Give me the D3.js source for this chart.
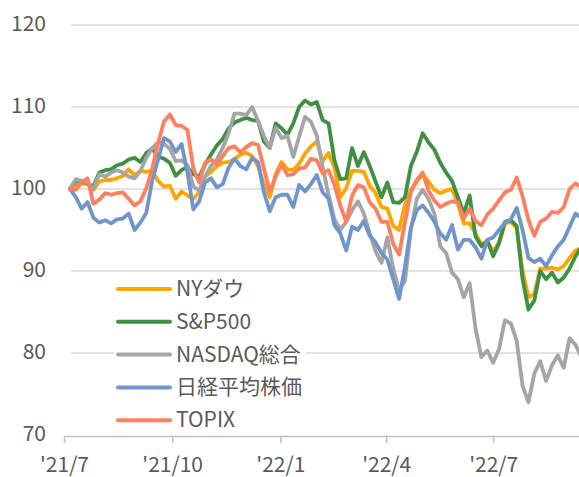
<!DOCTYPE html>
<html>
<head>
<meta charset="utf-8">
<script src="https://cdn.jsdelivr.net/npm/d3@7"></script>
<style>
  html, body { margin: 0; padding: 0; background: #fff; }
  #chart { width: 579px; height: 477px; }
  text { font-family: "Noto Sans CJK JP", "Noto Sans", sans-serif; fill: #595959; }
</style>
</head>
<body>
<div id="chart"></div>
<script>
// index values (start = 100), one value every 5 days from 2021/7/6
const startDate = new Date(2021, 6, 6);
const stepDays = 5;

const seriesNames = ['NYダウ', 'S&P500', 'NASDAQ総合', '日経平均株価', 'TOPIX'];
const seriesColors = ['#FFA500', '#3F9142', '#A5A5A5', '#7095CD', '#FF7F5E'];

const dow = [100, 100.5, 100.7, 100.6, 99.9, 100.9, 101.1, 101.1, 101.3, 101.6, 102.4, 101.7, 102.2, 102.1, 102.2, 101.0, 100.3, 100.4, 98.8, 99.7, 99.2, 98.8, 99.6, 101.5, 102.1, 102.8, 103.2, 103.3, 103.6, 104.2, 104.4, 104.0, 102.8, 100.6, 99.0, 101.8, 103.3, 102.4, 102.3, 103.1, 104.3, 105.2, 105.8, 103.4, 104.4, 102.6, 99.0, 100.1, 102.2, 102.2, 102.1, 100.4, 99.5, 97.8, 97.6, 95.5, 95.0, 98.1, 99.9, 100.9, 101.8, 100.9, 99.9, 99.5, 99.8, 100.0, 98.2, 95.8, 95.8, 94.6, 93.2, 93.6, 92.4, 93.5, 95.8, 96.0, 95.2, 90.0, 86.8, 87.2, 90.3, 90.3, 90.4, 90.2, 90.6, 91.6, 92.5, 92.8];
const sp500 = [100, 101.0, 101.0, 100.7, 100.3, 102.0, 102.3, 102.4, 102.9, 103.1, 103.6, 103.8, 103.3, 104.4, 104.9, 104.0, 103.7, 103.2, 101.6, 102.3, 102.7, 101.8, 101.5, 103.0, 104.2, 105.3, 106.1, 107.4, 108.1, 108.4, 108.7, 108.4, 108.3, 105.8, 105.0, 108.0, 107.4, 106.6, 108.0, 110.0, 110.8, 110.3, 110.6, 108.4, 108.0, 103.5, 101.2, 101.3, 105.0, 102.8, 104.5, 102.8, 100.9, 99.0, 100.8, 98.4, 98.3, 99.0, 102.8, 104.5, 106.8, 105.7, 104.8, 103.2, 102.0, 101.0, 99.0, 97.0, 99.2, 94.2, 93.0, 93.7, 91.8, 93.4, 96.0, 96.2, 95.5, 89.0, 85.3, 86.4, 90.0, 89.0, 89.8, 88.6, 89.2, 90.3, 91.8, 92.9];
const nasdaq = [100, 101.2, 101.0, 100.8, 100.0, 101.8, 101.5, 102.0, 102.3, 102.0, 101.5, 101.3, 102.2, 103.8, 105.0, 105.7, 105.5, 104.9, 103.4, 103.5, 102.9, 100.3, 99.8, 101.5, 102.8, 103.6, 105.0, 106.8, 109.2, 109.2, 109.0, 110.0, 108.3, 106.5, 105.0, 107.5, 106.2, 106.5, 103.9, 106.4, 108.8, 108.2, 106.5, 102.7, 99.3, 96.3, 95.0, 96.0, 97.4, 98.5, 97.0, 94.6, 92.4, 91.0, 94.1, 90.3, 87.6, 88.8, 95.0, 98.8, 99.9, 98.8, 97.0, 93.0, 92.2, 89.8, 89.0, 86.8, 88.5, 83.0, 79.5, 80.3, 78.8, 80.5, 84.0, 83.6, 81.5, 76.0, 74.0, 77.5, 79.0, 76.6, 78.5, 79.7, 78.2, 81.8, 81.0, 79.5];
const nikkei = [100, 99.0, 97.6, 98.4, 96.5, 95.9, 96.2, 95.8, 96.3, 96.4, 97.0, 95.0, 95.9, 97.1, 101.0, 103.6, 106.2, 105.8, 104.5, 105.5, 102.0, 97.5, 98.5, 100.8, 101.3, 100.2, 100.6, 102.6, 103.7, 102.8, 102.4, 103.8, 103.3, 99.6, 97.3, 99.0, 99.3, 99.3, 97.8, 100.5, 99.7, 100.6, 101.7, 99.6, 98.8, 95.6, 94.6, 92.5, 95.4, 95.0, 96.1, 94.3, 93.5, 92.2, 91.4, 89.0, 86.6, 90.5, 95.3, 97.4, 98.0, 97.1, 96.0, 94.6, 93.8, 95.6, 92.6, 93.8, 93.8, 92.9, 91.5, 93.8, 94.1, 95.0, 95.9, 96.3, 97.7, 95.0, 91.6, 91.1, 91.5, 90.6, 91.9, 93.0, 93.8, 95.4, 97.0, 96.5];
const topix = [100, 99.9, 100.8, 101.3, 98.2, 98.7, 99.5, 99.3, 99.5, 99.6, 98.8, 98.0, 98.5, 100.1, 102.5, 105.6, 108.2, 109.1, 107.8, 107.7, 107.2, 102.5, 100.8, 103.2, 103.6, 103.0, 104.0, 105.0, 105.2, 104.5, 105.1, 105.6, 105.4, 102.5, 99.7, 101.5, 103.0, 101.7, 101.8, 102.5, 102.6, 103.7, 103.5, 101.9, 102.3, 100.5, 98.0, 96.0, 99.2, 100.5, 100.2, 98.4, 97.6, 96.0, 96.0, 93.3, 92.0, 96.0, 99.6, 101.1, 102.0, 99.8, 98.6, 97.8, 98.2, 98.5, 98.4, 96.4, 97.6, 96.1, 95.6, 96.9, 97.6, 98.6, 99.6, 99.9, 101.4, 99.1, 96.2, 94.3, 96.0, 96.4, 97.2, 97.1, 97.8, 100.0, 100.7, 100.2];

const yTicks = [70, 80, 90, 100, 110, 120];
const xTickDates = [new Date(2021, 6, 1), new Date(2021, 9, 1), new Date(2022, 0, 1), new Date(2022, 3, 1), new Date(2022, 6, 1)];
const xTickLabels = ["'21/7", "'21/10", "'22/1", "'22/4", "'22/7"];

const width = 579;
const height = 477;

const svg = d3.select('#chart')
    .append('svg')
    .attr('width', width)
    .attr('height', height)
    .attr('viewBox', `0 0 ${width} ${height}`);

const x = d3.scaleTime()
    .domain([new Date(2021, 6, 1), new Date(2022, 8, 12)])
    .range([64, 579]);

const y = d3.scaleLinear()
    .domain([70, 120])
    .range([435, 25]);

const dates = dow.map((d, i) => d3.timeDay.offset(startDate, i * stepDays));

// gridlines
svg.append('g')
    .attr('class', 'grid')
    .selectAll('line')
    .data(yTicks.filter(t => t > 70))
    .join('line')
    .attr('x1', 71)
    .attr('x2', width)
    .attr('y1', d => y(d))
    .attr('y2', d => y(d))
    .attr('stroke', '#D9D9D9')
    .attr('stroke-width', 1.5);

// y labels
svg.append('g')
    .selectAll('text')
    .data(yTicks)
    .join('text')
    .attr('x', 46)
    .attr('y', d => y(d) + 6)
    .attr('text-anchor', 'end')
    .style('font-size', '21px')
    .text(d => d);

// x axis
const xAxis = svg.append('g')
    .attr('transform', `translate(0, ${y(70) + 1})`)
    .call(d3.axisBottom(x)
        .tickValues(xTickDates)
        .tickSize(7)
        .tickSizeOuter(0)
        .tickFormat((d, i) => xTickLabels[i]));

xAxis.select('.domain').attr('stroke', '#BFBFBF').attr('stroke-width', 1.5);
xAxis.selectAll('.tick line').attr('stroke', '#BFBFBF').attr('stroke-width', 1.5);
xAxis.selectAll('.tick text')
    .attr('y', 0)
    .attr('dy', 0)
    .attr('transform', 'translate(0, 36)')
    .style('font-size', '21px')
    .style('font-family', '"Noto Sans CJK JP", "Noto Sans", sans-serif')
    .attr('fill', '#595959');

// legend box (white, hides gridline)
const legend = svg.append('g').attr('class', 'legend');

legend.append('rect')
    .attr('x', 114)
    .attr('y', 273)
    .attr('width', 192)
    .attr('height', 160)
    .attr('fill', '#fff');

// lines
const allSeries = [dow, sp500, nasdaq, nikkei, topix];

const line = d3.line()
    .x((d, i) => x(dates[i]))
    .y(d => y(d));

svg.append('defs')
    .append('clipPath')
    .attr('id', 'plot-clip')
    .append('rect')
    .attr('x', 60)
    .attr('y', 0)
    .attr('width', width - 60)
    .attr('height', 436);

svg.append('g')
    .attr('clip-path', 'url(#plot-clip)')
    .selectAll('path')
    .data(allSeries)
    .join('path')
    .attr('d', d => line(d))
    .attr('fill', 'none')
    .attr('stroke', (d, i) => seriesColors[i])
    .attr('stroke-width', 3.8)
    .attr('stroke-linejoin', 'round')
    .attr('stroke-linecap', 'round');

const rows = legend.selectAll('g.row')
    .data(seriesNames)
    .join('g')
    .attr('class', 'row')
    .attr('transform', (d, i) => `translate(0, ${289 + i * 32.8})`);

rows.append('line')
    .attr('x1', 118)
    .attr('x2', 170)
    .attr('stroke', (d, i) => seriesColors[i])
    .attr('stroke-width', 4)
    .attr('stroke-linecap', 'round');

rows.append('text')
    .attr('x', 176)
    .attr('y', 7)
    .style('font-size', '21px')
    .text(d => d);
</script>
</body>
</html>
